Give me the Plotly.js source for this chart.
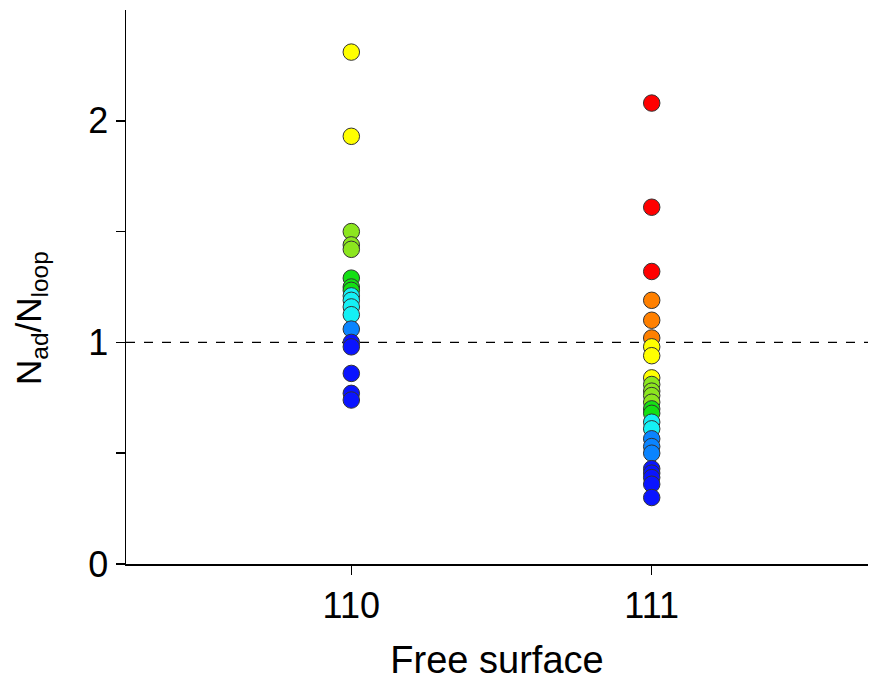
<!DOCTYPE html>
<html>
<head>
<meta charset="utf-8">
<script src="https://cdn.plot.ly/plotly-3.0.1.min.js"></script>
<style>html,body{margin:0;padding:0;background:#fff}#chart{width:870px;height:681px}</style>
</head>
<body>
<div id="chart"></div>
<script>
// ---- data ----
const surfaces = [110, 111];
const tickLabels = ['110', '111'];
const ratio110 = [2.31, 1.93, 1.50, 1.44, 1.42, 1.29, 1.25, 1.235, 1.21, 1.19, 1.16, 1.125, 1.06, 1.00, 0.98, 0.86, 0.77, 0.74];
const level110 = [5, 5, 4, 4, 4, 3, 3, 3, 2, 2, 2, 2, 1, 0, 0, 0, 0, 0];
const ratio111 = [2.08, 1.61, 1.32, 1.19, 1.10, 1.02, 0.98, 0.94, 0.84, 0.81, 0.78, 0.76, 0.73, 0.70, 0.68, 0.64, 0.61, 0.565, 0.53, 0.50, 0.43, 0.41, 0.39, 0.36, 0.30];
const level111 = [7, 7, 7, 6, 6, 6, 5, 5, 5, 4, 4, 4, 4, 3, 3, 2, 2, 1, 1, 1, 0, 0, 0, 0, 0];
const refLine = 1;
const yTicks = [0, 1, 2];
const yMinorTicks = [0.5, 1.5];

// ---- styling ----
const palette = ['#0a14ff', '#0a84ff', '#14f0f5', '#14e014', '#8ce61e', '#ffff00', '#ff8000', '#ff0000'];
const fontFam = 'Arial, "Liberation Sans", sans-serif';

function col(x, ys, levels) {
  return {
    x: ys.map(() => x),
    y: ys,
    type: 'scatter',
    mode: 'markers',
    showlegend: false,
    hoverinfo: 'y',
    marker: {
      size: 16.5,
      color: levels.map(l => palette[l]),
      line: {color: '#333333', width: 1}
    }
  };
}

const traces = [
  col(surfaces[0], ratio110, level110),
  col(surfaces[1], ratio111, level111)
];

const layout = {
  width: 870, height: 681,
  margin: {l: 126, r: 2, t: 10, b: 117},
  paper_bgcolor: '#fff', plot_bgcolor: '#fff',
  font: {family: fontFam, color: '#000'},
  xaxis: {
    range: [109.25, 111.72],
    tickvals: surfaces, ticktext: tickLabels,
    showgrid: false, zeroline: false,
    showline: true, linecolor: '#000', linewidth: 1.5,
    ticks: 'outside', ticklen: 9, tickwidth: 1.5, tickcolor: '#000',
    tickfont: {size: 36, family: fontFam},
    title: {text: 'Free surface', font: {size: 38, family: fontFam}, standoff: 22}
  },
  yaxis: {
    range: [0, 2.5],
    tickvals: yTicks,
    showgrid: false, zeroline: false,
    showline: true, linecolor: '#000', linewidth: 1.5,
    ticks: 'outside', ticklen: 9, tickwidth: 1.5, tickcolor: '#000',
    tickfont: {size: 36, family: fontFam},
    minor: {tickvals: yMinorTicks, ticks: 'outside', ticklen: 9, tickwidth: 1.5, tickcolor: '#000', showgrid: false}
  },
  shapes: [{
    type: 'line', xref: 'paper', yref: 'y',
    x0: 0, x1: 1, y0: refLine, y1: refLine,
    line: {color: '#000', width: 1.3, dash: 'dash'},
    layer: 'below'
  }],
  annotations: [{
    text: 'N<sub>ad</sub>/N<sub>loop</sub>',
    xref: 'paper', yref: 'paper',
    x: -95 / 742, y: (564 - 318) / 554,
    xanchor: 'center', yanchor: 'middle',
    textangle: -90, showarrow: false,
    font: {size: 35, family: fontFam, color: '#000'}
  }]
};

Plotly.newPlot('chart', traces, layout, {displayModeBar: false, staticPlot: true});
</script>
</body>
</html>
